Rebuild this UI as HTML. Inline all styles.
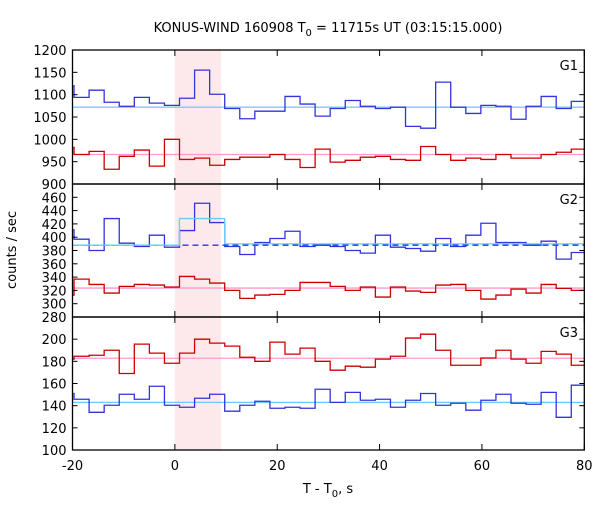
<!DOCTYPE html>
<html><head><meta charset="utf-8"><style>
html,body{margin:0;padding:0;background:#fff;}
svg text{font-family:"DejaVu Sans","Liberation Sans",sans-serif;font-size:13px;fill:#000;}
</style></head><body>
<svg id="chart" width="600" height="500" viewBox="0 0 600 500" xmlns="http://www.w3.org/2000/svg">
<text x="328" y="32" text-anchor="middle">KONUS-WIND 160908 T<tspan dy="4" font-size="10">0</tspan><tspan dy="-4"> = 11715s UT (03:15:15.000)</tspan></text>
<text transform="translate(16,250) rotate(-90)" text-anchor="middle">counts / sec</text>
<text x="328" y="493" text-anchor="middle">T - T<tspan dy="4" font-size="10">0</tspan><tspan dy="-4">, s</tspan></text>
<g id="plot"></g>
</svg>
<script>
const binStart = -19.7;
const binWidth = 2.944;
const shadeRange = [0, 9];
const xTicks = [-20, 0, 20, 40, 60, 80];
const g1Blue = [1120, 1094,1110,1083,1074,1094,1081,1076,1092,1155,1101,1069,1046,1063,1063,1096,1079,1052,1069,1087,1074,1069,1072,1029,1025,1128,1072,1058,1076,1074,1045,1074,1096,1069,1085];
const g1Red = [982, 966,973,933,962,976,940,1000,955,958,942,955,960,960,966,955,937,978,949,953,960,962,955,953,984,966,953,958,955,966,958,958,966,971,978];
const g1BlueBg = [1072];
const g1RedBg = [966];
const g2Blue = [411, 397,380,428,391,386,403,385,410,451,422,386,374,392,398,409,386,388,386,380,376,403,385,383,379,398,386,403,421,392,392,388,394,367,377];
const g2Red = [313, 337,329,316,326,329,328,325,341,337,331,320,308,313,314,320,332,332,326,320,325,310,325,319,317,328,329,320,307,313,322,316,329,323,320];
const g2BlueBg = [388, 428, 390];
const g2RedBg = [323.5];
const g3Red = [182, 184.6,185.5,190,169,195.5,187.4,178.3,187.4,200,196.4,193.7,183.7,180,197.3,186.5,191.9,180,172,175.6,174.7,182,184.6,201,204.5,190,176.5,176.5,183,190,182,178.3,189,186.5,176.5];
const g3Blue = [151, 145.8,134,140.4,150.3,145.8,157.5,140.4,138.6,146.7,150.3,135,140.4,144,137.7,138.6,137.7,154.8,143,152,144.9,145.8,138.6,144.9,151,140.4,142.2,135.9,144.9,150.3,142.2,141.3,152,129.5,158.5];
const g3BlueBg = [143];
const g3RedBg = [182.8];
const g1Ticks = [900,950,1000,1050,1100,1150,1200];
const g2Ticks = [280,300,320,340,360,380,400,420,440,460];
const g3Ticks = [100,120,140,160,180,200];

const NS = "http://www.w3.org/2000/svg";
const plot = document.getElementById('plot');
const X0 = 72.5, X1 = 584.3, xMin = -20, xMax = 80;
const sx = v => X0 + (v - xMin) / (xMax - xMin) * (X1 - X0);
const panels = [
  {name:'g1', top:50, bot:184, min:900, max:1200, ticks:g1Ticks, minorStep:50, label:'G1'},
  {name:'g2', top:184, bot:317, min:280, max:480, ticks:g2Ticks, minorStep:20, label:'G2'},
  {name:'g3', top:317, bot:450, min:100, max:220, ticks:g3Ticks, minorStep:20, label:'G3'}
];
panels.forEach(p => p.sy = v => p.bot - (v - p.min) / (p.max - p.min) * (p.bot - p.top));

function mk(tag, attrs){ const e=document.createElementNS(NS,tag); for(const k in attrs) e.setAttribute(k,attrs[k]); plot.appendChild(e); return e; }

// shading
const sh = mk('rect',{x:sx(shadeRange[0]),y:50,width:sx(shadeRange[1])-sx(shadeRange[0]),height:400,fill:'#fde9eb'});



function stepPath(vals, sy){
  let d = 'M'+sx(xMin)+','+sy(vals[0]);
  let x = binStart;
  d += 'L'+sx(x)+','+sy(vals[0]);
  for(let i=1;i<vals.length;i++){
    const x2 = Math.min(x+binWidth, xMax);
    d += 'L'+sx(x)+','+sy(vals[i])+'L'+sx(x2)+','+sy(vals[i]);
    x += binWidth;
  }
  return d;
}
function hline(p, v, color, name, dash){
  const l = mk('line',{x1:X0,x2:X1,y1:p.sy(v),y2:p.sy(v),stroke:color,'stroke-width':1.3});
  if(dash) l.setAttribute('stroke-dasharray',dash);
  
  
}
function series(p, vals, color, name){
  const e = mk('path',{d:stepPath(vals,p.sy),fill:'none',stroke:color,'stroke-width':1.3});
  
  
}

const P1=panels[0],P2=panels[1],P3=panels[2];
hline(P1,g1BlueBg[0],'#77ccf5','g1-background-upper');
hline(P1,g1RedBg[0],'#ff99cc','g1-background-lower');
series(P1,g1Blue,'#3333dd','g1-series-upper');
series(P1,g1Red,'#cc0000','g1-series-lower');

hline(P2,g2BlueBg[0],'#3333dd','g2-background-dashed','6,4');
series(P2,g2Blue,'#3333dd','g2-series-upper');
const bg2 = mk('path',{d:'M'+X0+','+P2.sy(g2BlueBg[0])+'L'+sx(0.9)+','+P2.sy(g2BlueBg[0])+'L'+sx(0.9)+','+P2.sy(g2BlueBg[1])+'L'+sx(9.73)+','+P2.sy(g2BlueBg[1])+'L'+sx(9.73)+','+P2.sy(g2BlueBg[2])+'L'+X1+','+P2.sy(g2BlueBg[2]),fill:'none',stroke:'#66ccff','stroke-width':1.3});


hline(P2,g2RedBg[0],'#ff99cc','g2-background-lower');
series(P2,g2Red,'#cc0000','g2-series-lower');

hline(P3,g3RedBg[0],'#ff99cc','g3-background-upper');
hline(P3,g3BlueBg[0],'#66ccff','g3-background-lower');
series(P3,g3Red,'#cc0000','g3-series-upper');
series(P3,g3Blue,'#3333dd','g3-series-lower');

// axes
panels.forEach(p=>{
  const r = mk('rect',{x:X0,y:p.top,width:X1-X0,height:p.bot-p.top,fill:'none',stroke:'#000','stroke-width':1.3});
  
  
  for(let v=p.min; v<=p.max; v+=p.minorStep){
    const y=p.sy(v);
    mk('line',{x1:X0,x2:X0+5,y1:y,y2:y,stroke:'#000'});
    mk('line',{x1:X1-5,x2:X1,y1:y,y2:y,stroke:'#000'});
  }
  p.ticks.forEach(v=>{
    const t = mk('text',{x:X0-6,y:p.sy(v)+5,'text-anchor':'end'});
    t.textContent = v;
    
    
  });
  xTicks.forEach(v=>{
    mk('line',{x1:sx(v),x2:sx(v),y1:p.top,y2:p.top+6,stroke:'#000'});
    mk('line',{x1:sx(v),x2:sx(v),y1:p.bot-6,y2:p.bot,stroke:'#000'});
  });
  const lb = mk('text',{x:578,y:p.top+20,'text-anchor':'end'});
  lb.textContent = p.label;
  
  
});
xTicks.forEach(v=>{
  const t = mk('text',{x:sx(v),y:470,'text-anchor':'middle'});
  t.textContent = v;
  
  
});
</script>
</body></html>
